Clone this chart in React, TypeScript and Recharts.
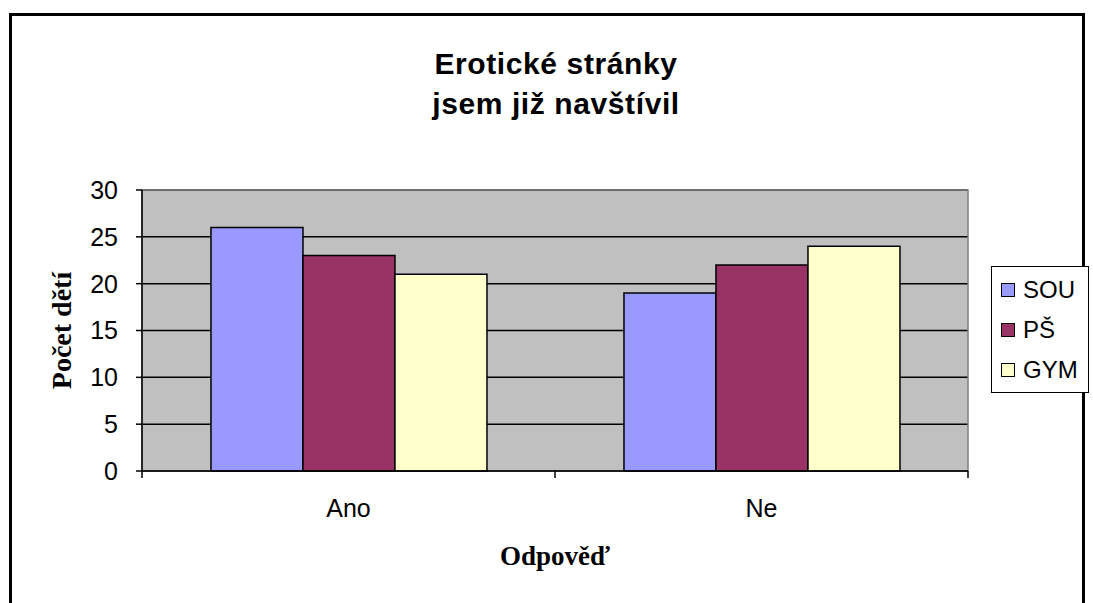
import React from 'react';
import {
  BarChart,
  Bar,
  XAxis,
  YAxis,
  CartesianGrid,
  Legend,
  ReferenceArea,
} from 'recharts';

// data
const categories = ['Ano', 'Ne'];
const sou = [26, 19];
const ps = [23, 22];
const gym = [21, 24];
const yTicks = [0, 5, 10, 15, 20, 25, 30];
const seriesNames = ['SOU', 'PŠ', 'GYM'];
const seriesColors = ['#9999FF', '#993366', '#FFFFCC'];

const data = categories.map((name, i) => ({
  name,
  SOU: sou[i],
  PŠ: ps[i],
  GYM: gym[i],
}));

const W = 1093;
const H = 603;
const PLOT_LEFT = 142;
const PLOT_RIGHT = 968;
const PLOT_TOP = 190;
const PLOT_BOTTOM = 471;
const Y_AXIS_W = 80;
const X_AXIS_H = 50;

const sans = 'Arial, "Liberation Sans", sans-serif';
const serif = '"Times New Roman", "Liberation Serif", serif';

// category label in the middle, tick marks on the category borders
// eslint-disable-next-line @typescript-eslint/no-explicit-any
function CategoryTick(props: any) {
  const { x, payload, index } = props;
  const half = (PLOT_RIGHT - PLOT_LEFT) / categories.length / 2;
  const last = index === categories.length - 1;
  return (
    <g>
      <line x1={x - half} x2={x - half} y1={PLOT_BOTTOM} y2={PLOT_BOTTOM + 7} stroke="#000" strokeWidth={1.5} />
      {last && (
        <line x1={x + half} x2={x + half} y1={PLOT_BOTTOM} y2={PLOT_BOTTOM + 7} stroke="#000" strokeWidth={1.5} />
      )}
      <text x={x} y={PLOT_BOTTOM + 46} textAnchor="middle" fill="#000" fontSize={25} fontFamily={sans}>
        {payload.value}
      </text>
    </g>
  );
}

// eslint-disable-next-line @typescript-eslint/no-explicit-any
function LegendBox(props: any) {
  const payload = props.payload ?? [];
  return (
    <div
      style={{
        width: 98,
        height: 127,
        boxSizing: 'border-box',
        border: '1.5px solid #000',
        background: '#fff',
        paddingTop: 3,
        paddingLeft: 9,
      }}
    >
      {seriesNames.map((name, i) => {
        const entry = payload.find((p: { value?: string }) => p.value === name);
        return (
          <div key={name} style={{ display: 'flex', alignItems: 'center', height: 40 }}>
            <span
              style={{
                width: 14,
                height: 14,
                boxSizing: 'border-box',
                border: '1.5px solid #000',
                background: entry?.color ?? seriesColors[i],
                display: 'inline-block',
              }}
            />
            <span style={{ marginLeft: 8, fontSize: 24, fontFamily: sans, color: '#000', lineHeight: '40px' }}>
              {name}
            </span>
          </div>
        );
      })}
    </div>
  );
}

export default function App() {
  return (
    <div style={{ position: 'absolute', left: 0, top: 0, width: W, height: H, background: '#fff', overflow: 'hidden' }}>
      <div
        style={{
          position: 'absolute',
          left: 9,
          top: 13,
          width: 1076,
          height: 640,
          boxSizing: 'border-box',
          border: '3px solid #000',
        }}
      />
      <div
        style={{
          position: 'absolute',
          left: 0,
          top: 44,
          width: 1112,
          textAlign: 'center',
          fontFamily: sans,
          fontWeight: 'bold',
          fontSize: 30,
          lineHeight: '40px',
          letterSpacing: 0.6,
          color: '#000',
        }}
      >
        Erotické stránky
        <br />
        jsem již navštívil
      </div>
      <div style={{ position: 'absolute', left: 0, top: 0 }}>
        <BarChart
          width={W}
          height={H}
          data={data}
          margin={{
            top: PLOT_TOP,
            right: W - PLOT_RIGHT,
            bottom: H - PLOT_BOTTOM - X_AXIS_H,
            left: PLOT_LEFT - Y_AXIS_W,
          }}
          barCategoryGap="16.7%"
          barGap={0}
        >
          <CartesianGrid vertical={false} stroke="#000" strokeWidth={1.5} fill="#C0C0C0" fillOpacity={1} />
          <ReferenceArea y1={0} y2={30} fill="none" stroke="#808080" strokeWidth={1.5} />
          <XAxis
            dataKey="name"
            height={X_AXIS_H}
            tickLine={false}
            axisLine={{ stroke: '#000', strokeWidth: 1.5 }}
            tick={<CategoryTick />}
            interval={0}
            label={{
              content: () => (
                <text
                  x={(PLOT_LEFT + PLOT_RIGHT) / 2}
                  y={PLOT_BOTTOM + 94}
                  textAnchor="middle"
                  fontFamily={serif}
                  fontWeight="bold"
                  fontSize={27}
                  fill="#000"
                >
                  Odpověď
                </text>
              ),
            }}
          />
          <YAxis
            width={Y_AXIS_W}
            domain={[0, 30]}
            ticks={yTicks}
            interval={0}
            tickSize={6}
            tickMargin={18}
            axisLine={{ stroke: '#000', strokeWidth: 1.5 }}
            tickLine={{ stroke: '#000', strokeWidth: 1.5 }}
            tick={{ fill: '#000', fontSize: 25, fontFamily: sans }}
            label={{
              content: () => (
                <text
                  x={0}
                  y={0}
                  transform={`translate(71 ${(PLOT_TOP + PLOT_BOTTOM) / 2}) rotate(-90)`}
                  textAnchor="middle"
                  fontFamily={serif}
                  fontWeight="bold"
                  fontSize={28}
                  fill="#000"
                >
                  Počet dětí
                </text>
              ),
            }}
          />
          <Legend
            layout="vertical"
            align="center"
            verticalAlign="middle"
            content={<LegendBox />}
            wrapperStyle={{ left: 991, top: 266, width: 98, height: 127 }}
          />
          {seriesNames.map((name, i) => (
            <Bar
              key={name}
              dataKey={name}
              name={name}
              fill={seriesColors[i]}
              stroke="#000"
              strokeWidth={1.5}
              isAnimationActive={false}
            />
          ))}
        </BarChart>
      </div>
    </div>
  );
}
